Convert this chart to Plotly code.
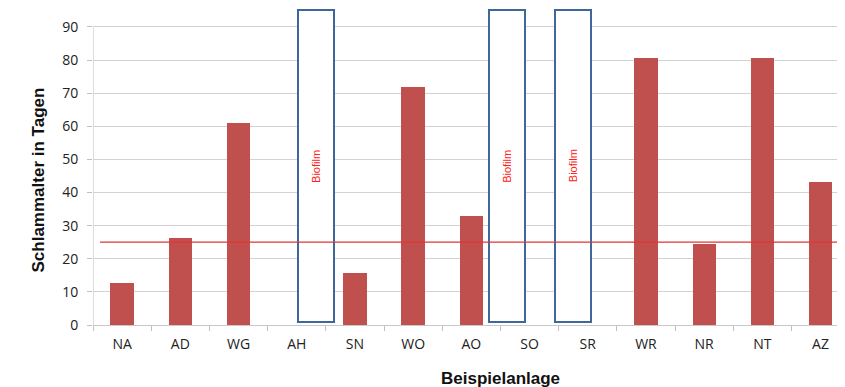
import plotly.graph_objects as go

categories = ["NA", "AD", "WG", "AH", "SN", "WO", "AO", "SO", "SR", "WR", "NR", "NT", "AZ"]
values = [12.6, 26.3, 61.0, None, 15.8, 72.0, 33.0, None, None, 80.7, 24.4, 80.5, 43.3]
biofilm = ["AH", "SO", "SR"]
biofilm_base = 1
biofilm_top = 95.2
target = 25
yticks = [0, 10, 20, 30, 40, 50, 60, 70, 80, 90]

# page has an 8px body margin; compensate in figure coordinates
L, T, PW, PH = 85, 0, 752, 317
# the Biofilm boxes are drawn slightly displaced from their category centres in the original
box_shift = {"AH": 0.33, "SO": -0.39, "SR": -0.25}
box_w = 0.61

fig = go.Figure()
fig.add_trace(go.Bar(x=categories, y=values, width=0.4, marker=dict(color="#c0504d", line=dict(width=0)),
                     showlegend=False, hoverinfo="x+y"))
fig.add_trace(go.Bar(x=biofilm, y=[biofilm_top - biofilm_base] * len(biofilm), base=biofilm_base, width=box_w,
                     offset=[box_shift[c] - box_w / 2 for c in biofilm],
                     marker=dict(color="white", line=dict(color="#3f6799", width=2)), showlegend=False))
for c in biofilm:
    fig.add_annotation(x=categories.index(c) + box_shift[c], y=48, text="Biofilm", textangle=-90, showarrow=False,
                       font=dict(color="#ff2020", size=11, family="Liberation Sans"))

fig.add_shape(type="line", xref="x", yref="y", x0=-0.38, x1=12.42, y0=target, y1=target,
              line=dict(color="#e03535", width=1.3), layer="above")
fig.add_shape(type="line", xref="x", yref="y", x0=-0.5, x1=-0.5, y0=0, y1=90,
              line=dict(color="#c8c8c8", width=1.2), layer="below")

fig.add_annotation(xref="paper", yref="paper", x=(492 - L) / PW, y=-(370 - PH) / PH, xanchor="center",
                   yanchor="middle", text="<b>Beispielanlage</b>", showarrow=False,
                   font=dict(size=17, color="#111111", family="Liberation Sans"))
fig.add_annotation(xref="paper", yref="paper", x=-(L - 30) / PW, y=(PH - 172.5) / PH, xanchor="center",
                   yanchor="middle", text="<b>Schlammalter in Tagen</b>", textangle=-90, showarrow=False,
                   font=dict(size=17, color="#111111", family="Liberation Sans"))

fig.update_layout(
    width=845, height=387, margin=dict(l=L, r=845 - L - PW, t=T, b=387 - T - PH),
    plot_bgcolor="white", paper_bgcolor="white", bargap=0, barmode="overlay",
    font=dict(family="Open Sans", color="#333333"),
    xaxis=dict(range=[-0.5, 12.42], tickson="boundaries", ticks="outside", ticklen=5, tickcolor="#c0c0c0",
               showline=True, linecolor="#c8c8c8", linewidth=1.2, tickfont=dict(size=14, color="#222222"),
               showgrid=False, automargin=False, ticklabelstandoff=6),
    yaxis=dict(range=[0, 95.7], tickvals=yticks, ticks="outside", ticklen=5, tickcolor="#c0c0c0",
               showgrid=True, gridcolor="#d2d2d2", gridwidth=1, zeroline=False, showline=False,
               tickfont=dict(size=14, color="#222222"), automargin=False, ticklabelstandoff=6),
)
fig.write_html("out.html")
